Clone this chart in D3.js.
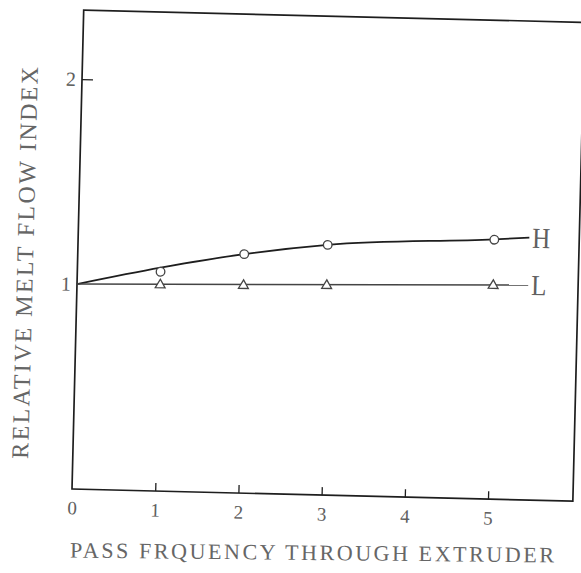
<!DOCTYPE html>
<html><head><meta charset="utf-8">
<script src="https://cdn.jsdelivr.net/npm/d3@7"></script>
<style>body{margin:0;background:#fff}svg{display:block}</style>
</head><body>
<script>
// Data (read in the chart's own, slightly tilted, frame)
const xTicks = [0, 1, 2, 3, 4, 5];
const yTicks = [1, 2];
const hCurveX = [0, 1, 2, 3, 5, 5.42];
const hCurveY = [1.0, 1.09, 1.166, 1.221, 1.268, 1.28];
const hPointsX = [1, 2, 3, 5];
const hPointsY = [1.07, 1.166, 1.221, 1.266];
const lCurveX = [0, 5.42];
const lCurveY = [1.0, 1.049];
const lPointsX = [1, 2, 3, 5];
const lPointsY = [1.008, 1.015, 1.025, 1.045];
const seriesNames = ["H", "L"];
const xTitle = "PASS FRQUENCY THROUGH EXTRUDER";
const yTitle = "RELATIVE MELT FLOW INDEX";

const W = 581, H = 573;
const origin = [72, 489], tilt = 1.4;
const pw = 501, ph = 479;
const x = d3.scaleLinear().domain([0, 6.02]).range([0, pw]);
const y = d3.scaleLinear().domain([0, ph / 205]).range([0, -ph]);

const svg = d3.select("body").append("svg").attr("width", W).attr("height", H);
const font = "'Liberation Serif', 'DejaVu Serif', serif";
const ink = "#1e1e1e", txt = "#606060";

const g = svg.append("g").attr("transform", `translate(${origin[0]},${origin[1]}) rotate(${tilt})`);

// frame
g.append("rect").attr("x", 0).attr("y", -ph).attr("width", pw).attr("height", ph)
  .attr("fill", "none").attr("stroke", ink).attr("stroke-width", 1.7);

// x axis ticks (inward)
const xAxis = d3.axisBottom(x).tickValues(xTicks).tickSizeInner(-8).tickSizeOuter(0).tickPadding(12)
  .tickFormat(d3.format("d"));
const gx = g.append("g").call(xAxis);
gx.select(".domain").remove();
gx.selectAll(".tick line").attr("stroke", ink).attr("stroke-width", 1.3)
  .filter(d => d === 0).remove();
gx.selectAll(".tick text").attr("font-family", font).attr("font-size", 19).attr("fill", txt);

// y axis
const yAxis = d3.axisLeft(y).tickValues(yTicks).tickSizeInner(-11).tickSizeOuter(0).tickPadding(6)
  .tickFormat(d3.format("d"));
const gy = g.append("g").call(yAxis);
gy.select(".domain").remove();
gy.selectAll(".tick line").attr("stroke", ink).attr("stroke-width", 1.3)
  .filter(d => d === 1).remove();
gy.selectAll(".tick text").attr("font-family", font).attr("font-size", 20).attr("fill", txt);

// lines
const line = d3.line().x(d => x(d[0])).y(d => y(d[1])).curve(d3.curveMonotoneX);
g.append("path").datum(hCurveX.map((v, i) => [v, hCurveY[i]]))
  .attr("d", line).attr("fill", "none").attr("stroke", ink).attr("stroke-width", 1.8);
g.append("path").datum(lCurveX.map((v, i) => [v, lCurveY[i]]))
  .attr("d", line).attr("fill", "none").attr("stroke", "#444").attr("stroke-width", 1.4);

// markers
g.selectAll(".hp").data(hPointsX.map((v, i) => [v, hPointsY[i]])).enter().append("circle")
  .attr("cx", d => x(d[0])).attr("cy", d => y(d[1])).attr("r", 4.3)
  .attr("fill", "#fff").attr("stroke", "#444").attr("stroke-width", 1.3);
const tri = d3.symbol().type(d3.symbolTriangle).size(42);
g.selectAll(".lp").data(lPointsX.map((v, i) => [v, lPointsY[i]])).enter().append("path")
  .attr("d", tri).attr("transform", d => `translate(${x(d[0])},${y(d[1]) + 0.5})`)
  .attr("fill", "#fff").attr("stroke", "#444").attr("stroke-width", 1.3);

// series labels
const lab = (name, yv) => g.append("text")
  .attr("transform", `translate(${x(hCurveX[hCurveX.length - 1]) + 3},${y(yv) + 10}) scale(0.86,1)`)
  .text(name).attr("font-family", font).attr("font-size", 29).attr("fill", txt);
lab(seriesNames[0], hCurveY[hCurveY.length - 1]);
lab(seriesNames[1], lCurveY[lCurveY.length - 1]);

// titles
svg.append("text").attr("transform", "translate(312,560) rotate(0.58)").attr("text-anchor", "middle")
  .attr("font-family", font).attr("font-size", 22).attr("fill", "#666")
  .attr("textLength", 484).attr("lengthAdjust", "spacing")
  .text(xTitle);
svg.append("text").attr("transform", "translate(33,263) rotate(-88.55)").attr("text-anchor", "middle")
  .attr("font-family", font).attr("font-size", 24).attr("fill", "#666")
  .attr("textLength", 392).attr("lengthAdjust", "spacing")
  .text(yTitle);
</script>
</body></html>
